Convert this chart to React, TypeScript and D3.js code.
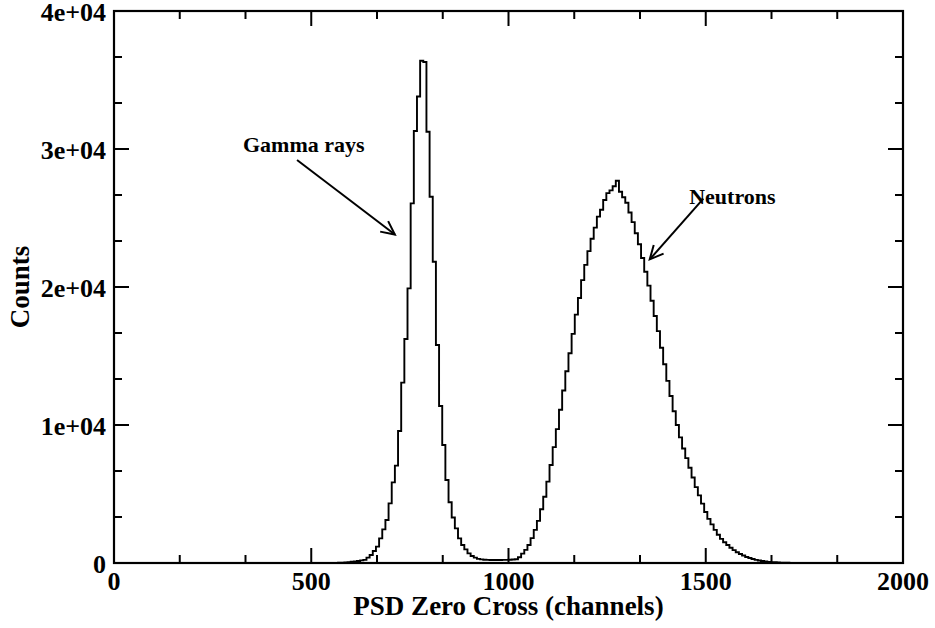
import React from "react";
import * as d3 from "d3";

// Pulse-shape discrimination histogram: 8-channel bins starting at FIRST_BIN
const BIN_WIDTH = 8;
const FIRST_BIN = 520;
const counts: number[] = [
  // 520 – 632
  0, 1, 2, 4, 7, 12, 20, 30, 45, 65, 90, 120, 150, 190, 230,
  // 640 – 736
  386, 580, 870, 1184, 1787, 2440, 3116, 4323, 5845, 7053, 9565, 13070, 16230,
  // 744 – 808 (gamma peak)
  19900, 26060, 31300, 33800, 36400, 36300, 31250, 26540, 21830,
  // 816 – 920
  15800, 11376, 8550, 6014, 4400, 3300, 2512, 1787, 1304, 990, 700, 507, 386, 300,
  // 928 – 1008 (valley)
  260, 240, 230, 220, 215, 215, 220, 225, 230, 240, 255,
  // 1016 – 1136
  270, 420, 680, 950, 1300, 1800, 2400, 3050, 3900, 4800, 5900, 7100, 8400, 9700, 11100, 12500,
  // 1144 – 1272 (neutron rise)
  13900, 15200, 16600, 18000, 19200, 20500, 21600, 22600, 23500, 24300, 25100, 25600, 26300, 26800, 27000, 27300, 27700,
  // 1280 – 1400
  26900, 26500, 26100, 25400, 24700, 23900, 23100, 22100, 21100, 20100, 19000, 17900, 16800, 15600, 14400, 13200,
  // 1408 – 1528
  12100, 11000, 10000, 9100, 8300, 7600, 6900, 6200, 5500, 4900, 4300, 3700, 3200, 2800, 2400, 2050,
  // 1536 – 1656
  1750, 1500, 1300, 1100, 930, 780, 650, 540, 440, 360, 290, 230, 180, 140, 110, 85,
  // 1664 – 1760
  65, 50, 38, 28, 20, 14, 10, 7, 5, 3, 2, 1, 0,
];

const X_DOMAIN: [number, number] = [0, 2000];
const Y_DOMAIN: [number, number] = [0, 40000];
const xTicks = [0, 500, 1000, 1500, 2000];
const xTickLabels = ["0", "500", "1000", "1500", "2000"];
const yTicks = [0, 10000, 20000, 30000, 40000];
const yTickLabels = ["0", "1e+04", "2e+04", "3e+04", "4e+04"];
const X_MINOR = 500 / 3;
const Y_MINOR = 10000 / 3;

// Annotations in data units: label anchor, arrow tail, arrow tip
const annotations = [
  { text: "Gamma rays", at: [327, 29780], from: [464, 29200], to: [712, 23800] },
  { text: "Neutrons", at: [1458, 26000], from: [1494, 26400], to: [1358, 22000] },
];

const W = 935;
const H = 628;
const M = { left: 114, top: 11, right: 32, bottom: 65 };
const FONT = "'Liberation Serif', 'Times New Roman', serif";

export default function App() {
  const x = d3.scaleLinear().domain(X_DOMAIN).range([M.left, W - M.right]);
  const y = d3.scaleLinear().domain(Y_DOMAIN).range([H - M.bottom, M.top]);
  const x0 = M.left, x1 = W - M.right, y0 = H - M.bottom, y1 = M.top;

  const pts: [number, number][] = counts.map((c, i) => [FIRST_BIN + i * BIN_WIDTH, c]);
  pts.push([FIRST_BIN + counts.length * BIN_WIDTH, counts[counts.length - 1]]);
  const line = d3
    .line<[number, number]>()
    .x((d) => x(d[0]))
    .y((d) => y(d[1]))
    .curve(d3.curveStepAfter);

  const xMinor = d3.range(0, 2000 + 1e-6, X_MINOR).filter((v) => !xTicks.some((t) => Math.abs(t - v) < 1e-3));
  const yMinor = d3.range(0, 40000 + 1e-6, Y_MINOR).filter((v) => !yTicks.some((t) => Math.abs(t - v) < 1e-3));

  const MAJ = 15;
  const MIN = 8;

  const arrowHead = (fx: number, fy: number, tx: number, ty: number) => {
    const ang = Math.atan2(ty - fy, tx - fx);
    const len = 15;
    const spread = (26 * Math.PI) / 180;
    const a1 = ang + Math.PI - spread;
    const a2 = ang + Math.PI + spread;
    return `M${tx + len * Math.cos(a1)},${ty + len * Math.sin(a1)}L${tx},${ty}L${tx + len * Math.cos(a2)},${ty + len * Math.sin(a2)}`;
  };

  return (
    <svg
      width={W}
      height={H}
      style={{ position: "absolute", left: 0, top: 0, background: "#fff" }}
      fontFamily={FONT}
      fontWeight="bold"
    >
      <rect x={0} y={0} width={W} height={H} fill="#fff" />
      <path d={line(pts) ?? ""} fill="none" stroke="#000" strokeWidth={1.9} />

      {/* ticks on all four sides, pointing inward */}
      <g stroke="#000" strokeWidth={2}>
        {xTicks.map((t) => (
          <g key={"xt" + t}>
            <line x1={x(t)} x2={x(t)} y1={y0} y2={y0 - MAJ} />
            <line x1={x(t)} x2={x(t)} y1={y1} y2={y1 + MAJ} />
          </g>
        ))}
        {xMinor.map((t) => (
          <g key={"xm" + t}>
            <line x1={x(t)} x2={x(t)} y1={y0} y2={y0 - MIN} />
            <line x1={x(t)} x2={x(t)} y1={y1} y2={y1 + MIN} />
          </g>
        ))}
        {yTicks.map((t) => (
          <g key={"yt" + t}>
            <line x1={x0} x2={x0 + MAJ} y1={y(t)} y2={y(t)} />
            <line x1={x1} x2={x1 - MAJ} y1={y(t)} y2={y(t)} />
          </g>
        ))}
        {yMinor.map((t) => (
          <g key={"ym" + t}>
            <line x1={x0} x2={x0 + MIN} y1={y(t)} y2={y(t)} />
            <line x1={x1} x2={x1 - MIN} y1={y(t)} y2={y(t)} />
          </g>
        ))}
      </g>

      <rect x={x0} y={y1} width={x1 - x0} height={y0 - y1} fill="none" stroke="#000" strokeWidth={2.2} />

      {/* tick labels */}
      <g fontSize={26} fill="#000">
        {xTicks.map((t, i) => (
          <text key={"xl" + t} x={x(t)} y={y0 + 27} textAnchor="middle">
            {xTickLabels[i]}
          </text>
        ))}
        {yTicks.map((t, i) => (
          <text key={"yl" + t} x={x0 - 8} y={y(t) + 10} textAnchor="end">
            {yTickLabels[i]}
          </text>
        ))}
      </g>

      <text x={(x0 + x1) / 2} y={615} textAnchor="middle" fontSize={27}>
        PSD Zero Cross (channels)
      </text>
      <text transform={`translate(29,${(y0 + y1) / 2}) rotate(-90)`} textAnchor="middle" fontSize={27}>
        Counts
      </text>

      {annotations.map((a) => {
        const fx = x(a.from[0]), fy = y(a.from[1]), tx = x(a.to[0]), ty = y(a.to[1]);
        return (
          <g key={a.text}>
            <text x={x(a.at[0])} y={y(a.at[1])} fontSize={22}>
              {a.text}
            </text>
            <line x1={fx} y1={fy} x2={tx} y2={ty} stroke="#000" strokeWidth={2} />
            <path d={arrowHead(fx, fy, tx, ty)} fill="none" stroke="#000" strokeWidth={2} />
          </g>
        );
      })}
    </svg>
  );
}
